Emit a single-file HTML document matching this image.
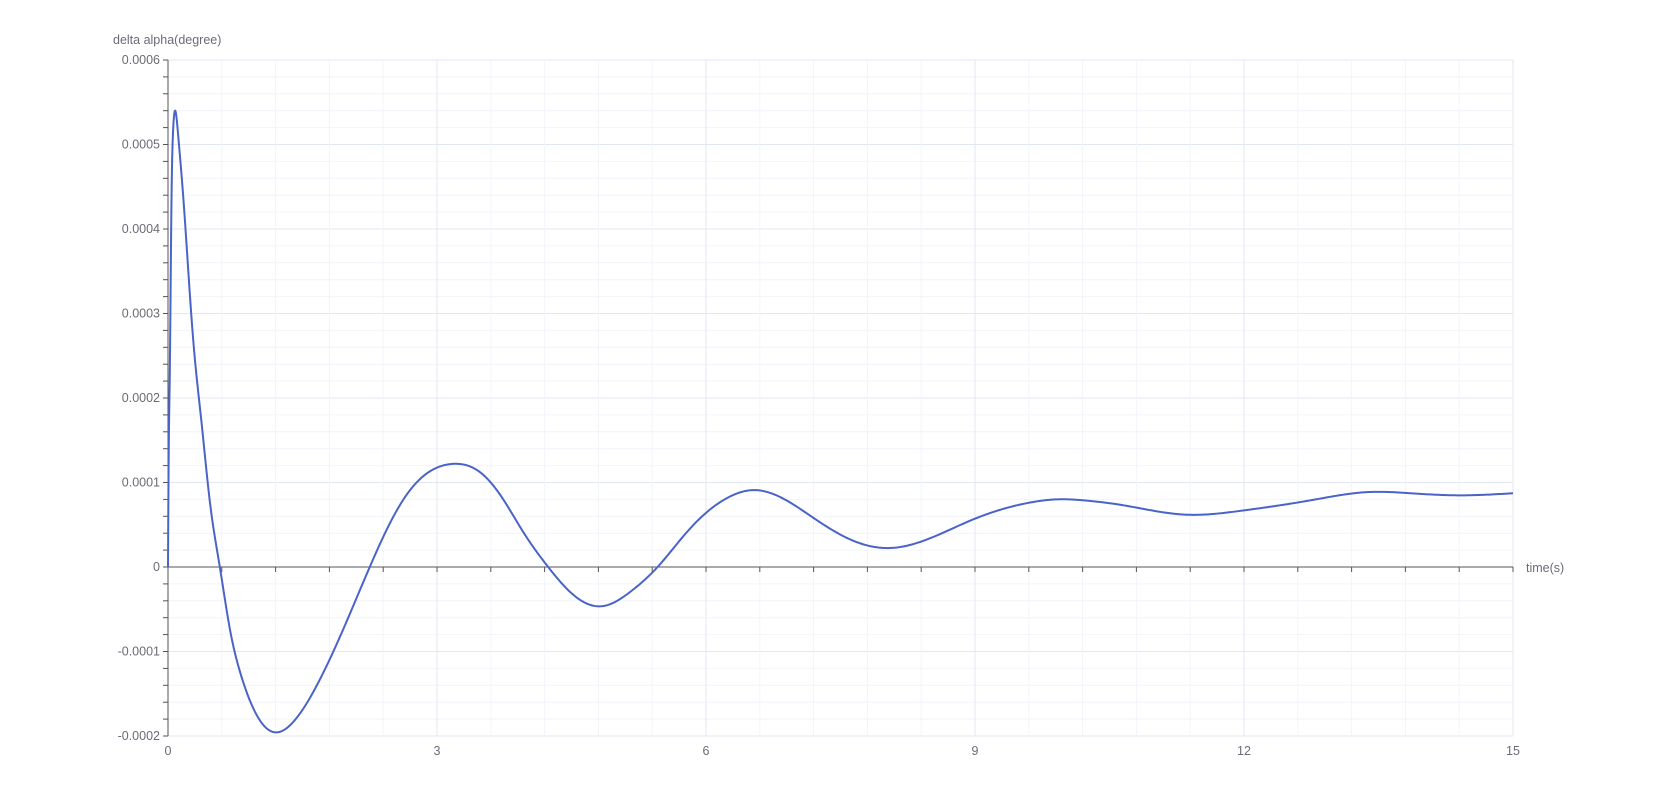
<!DOCTYPE html>
<html><head><meta charset="utf-8"><style>
html,body{margin:0;padding:0;background:#fff;}
svg text{font-family:"Liberation Sans",sans-serif;fill:#6b6b78;font-size:12.5px;}
</style></head><body>
<svg id="chart" width="1679" height="806" viewBox="0 0 1679 806" xmlns="http://www.w3.org/2000/svg">
<g id="grid"></g>
<g id="axes"></g>
<path id="line" fill="none" stroke="#4a63c8" stroke-width="2" stroke-linejoin="round"/>
<text x="113" y="44">delta alpha(degree)</text>
<text x="1526" y="572">time(s)</text>
</svg>
<script>
const times = [0,0.007,0.019,0.037,0.056,0.082,0.11,0.168,0.28,0.373,0.466,0.578,0.69,0.80,0.95,1.10,1.25,1.40,1.675,1.874,2.07,2.25,2.42,2.62,2.82,3.17,3.47,3.72,3.97,4.24,4.51,4.85,5.16,5.46,5.76,6.01,6.26,6.52,6.86,7.2,7.6,8.03,8.45,8.95,9.29,9.6,9.9,10.3,10.6,11.34,12.0,12.4,12.8,13.37,13.9,14.4,15];
const values = [0,0.000123,0.00022,0.000417,0.000515,0.00054,0.000515,0.000441,0.00027,0.000172,0.000078,0,-0.0000735,-0.000123,-0.000167,-0.000191,-0.000195,-0.000183,-0.000137,-0.000093,-0.000045,0,0.00004,0.000079,0.000105,0.000122,0.000113,0.000083,0.00004,0,-0.000032,-0.0000463,-0.000029,0,0.000038,0.000065,0.000083,0.000091,0.000081,0.000058,0.000033,0.0000224,0.000032,0.000055,0.000068,0.000076,0.00008,0.000078,0.000074,0.000062,0.000067,0.000073,0.00008,0.0000886,0.000087,0.0000848,0.0000873];
const xTicks = [0,3,6,9,12,15];
const yTicks = [-0.0002,-0.0001,0,0.0001,0.0002,0.0003,0.0004,0.0005,0.0006];
const yLabels = ["-0.0002","-0.0001","0","0.0001","0.0002","0.0003","0.0004","0.0005","0.0006"];

const X0=168,X1=1513,Y0=736,Y1=60;
const xs=t=>X0+(t/15)*(X1-X0);
const ys=v=>Y0-(v+0.0002)/0.0008*(Y0-Y1);
const NS="http://www.w3.org/2000/svg";
function mk(tag,attrs,parent){const e=document.createElementNS(NS,tag);for(const k in attrs)e.setAttribute(k,attrs[k]);parent.appendChild(e);return e;}
const grid=document.getElementById('grid'),axes=document.getElementById('axes');
for(let i=0;i<=40;i++){const v=-0.0002+i*0.00002;const y=ys(v);
 const l=mk('line',{x1:X0,x2:X1,y1:y,y2:y,stroke:(i%5==0)?'#e3e7f1':'#f2f4fa','stroke-width':1},grid);
 
 const tk=mk('line',{x1:X0-5,x2:X0,y1:y,y2:y,stroke:'#555','stroke-width':1},axes);
 }
for(let i=0;i<=25;i++){const t=i*0.6;const x=xs(t);
 const l=mk('line',{x1:x,x2:x,y1:Y1,y2:Y0,stroke:(i%5==0)?'#e3e7f1':'#f2f4fa','stroke-width':1},grid);
 
 const tk=mk('line',{x1:x,x2:x,y1:ys(0),y2:ys(0)+5,stroke:'#555','stroke-width':1},axes);
 }
const ya=mk('line',{x1:X0,x2:X0,y1:Y1,y2:Y0,stroke:'#555','stroke-width':1},axes);

const xa=mk('line',{x1:X0,x2:X1,y1:ys(0),y2:ys(0),stroke:'#555','stroke-width':1},axes);

yTicks.forEach((v,i)=>{const t=mk('text',{x:X0-8,y:ys(v)+4,'text-anchor':'end'},axes);t.textContent=yLabels[i];
 });
xTicks.forEach(v=>{const t=mk('text',{x:xs(v),y:Y0+19,'text-anchor':'middle'},axes);t.textContent=String(v);
 });
// natural cubic spline in t, sampled densely
(function(){
 const n=times.length,h=[],al=[],l=[1],mu=[0],z=[0],c=new Array(n).fill(0),b=[],d=[];
 for(let i=0;i<n-1;i++)h.push(times[i+1]-times[i]);
 for(let i=1;i<n-1;i++)al[i]=3/h[i]*(values[i+1]-values[i])-3/h[i-1]*(values[i]-values[i-1]);
 for(let i=1;i<n-1;i++){l[i]=2*(times[i+1]-times[i-1])-h[i-1]*mu[i-1];mu[i]=h[i]/l[i];z[i]=(al[i]-h[i-1]*z[i-1])/l[i];}
 l[n-1]=1;z[n-1]=0;
 for(let j=n-2;j>=0;j--){c[j]=z[j]-mu[j]*c[j+1];b[j]=(values[j+1]-values[j])/h[j]-h[j]*(c[j+1]+2*c[j])/3;d[j]=(c[j+1]-c[j])/(3*h[j]);}
 let s='';
 for(let j=0;j<n-1;j++){const steps=Math.max(4,Math.ceil((xs(times[j+1])-xs(times[j]))/2));
  for(let k=(j==0?0:1);k<=steps;k++){const dt=h[j]*k/steps;
   const v=values[j]+b[j]*dt+c[j]*dt*dt+d[j]*dt*dt*dt;
   s+=(s?' L':'M')+xs(times[j]+dt).toFixed(2)+','+ys(v).toFixed(2);}}
 document.getElementById('line').setAttribute('d',s);
})();
</script>
</body></html>
